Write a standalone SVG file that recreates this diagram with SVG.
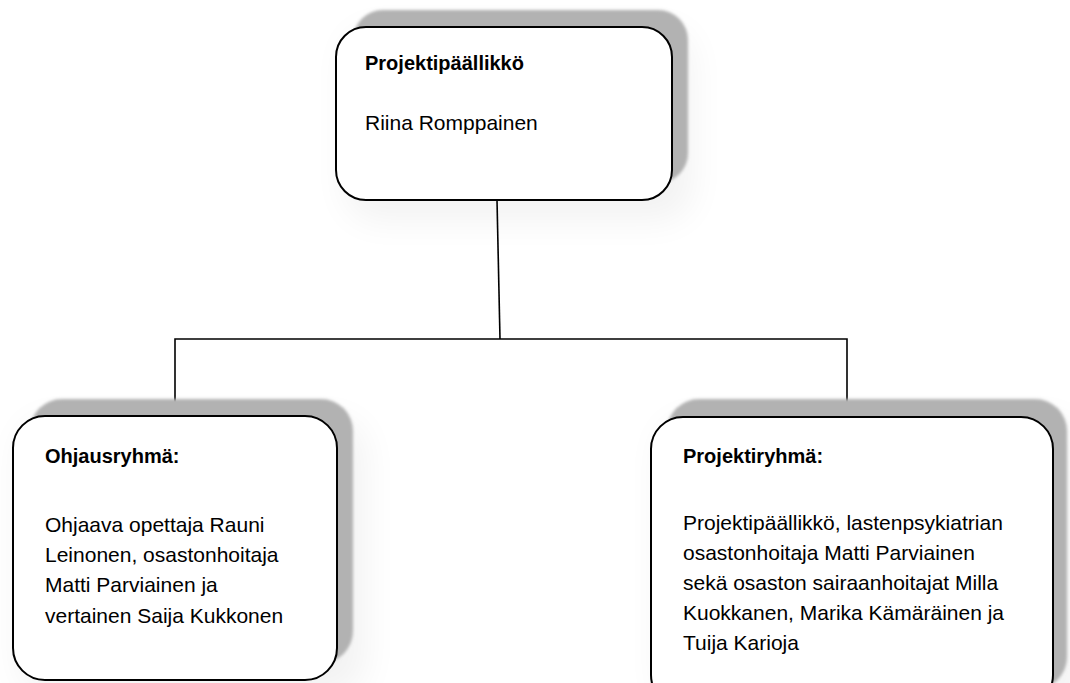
<svg xmlns="http://www.w3.org/2000/svg" width="1070" height="683" viewBox="0 0 1070 683">
  <defs>
    <filter id="soft" x="-20%" y="-20%" width="140%" height="140%">
      <feGaussianBlur stdDeviation="1.5"/>
    </filter>
    <filter id="glow" x="-30%" y="-30%" width="160%" height="160%">
      <feGaussianBlur stdDeviation="18"/>
    </filter>
  </defs>
  <style>
    .box { fill: #ffffff; stroke: #000000; stroke-width: 2; }
    .shadow { fill: #b2b2b2; filter: url(#soft); }
    .glow { fill: #000000; opacity: 0.05; filter: url(#glow); }
    .t { font-family: "Liberation Sans", Arial, sans-serif; font-size: 21px; fill: #000000; }
    .b { font-weight: bold; font-size: 20px; }
    .conn { fill: none; stroke: #000000; stroke-width: 1.6; }
  </style>
  <rect x="0" y="0" width="1070" height="683" fill="#ffffff"/>

  <g id="connectors">
    <path class="conn" d="M497,200 L500,339"/>
    <path class="conn" d="M175,416 L175,339 L847,339 L847,417"/>
  </g>

  <g id="node-projektipaallikko">
    <rect class="glow" x="346" y="30" width="346" height="190" rx="30"/>
    <rect class="shadow" x="353" y="10" width="335" height="173" rx="30"/>
    <rect class="box" x="336" y="27" width="336" height="173" rx="30"/>
    <text class="t b" x="365" y="70">Projektipäällikkö</text>
    <text class="t" x="365" y="130">Riina Romppainen</text>
  </g>

  <g id="node-ohjausryhma">
    <rect class="glow" x="20" y="420" width="345" height="275" rx="32"/>
    <rect class="shadow" x="30" y="399" width="323" height="264" rx="32"/>
    <rect class="box" x="13" y="416" width="324" height="264" rx="32"/>
    <text class="t b" x="45" y="463">Ohjausryhmä:</text>
    <text class="t" x="45" y="532">Ohjaava opettaja Rauni</text>
    <text class="t" x="45" y="562">Leinonen, osastonhoitaja</text>
    <text class="t" x="45" y="592">Matti Parviainen ja</text>
    <text class="t" x="45" y="623">vertainen Saija Kukkonen</text>
  </g>

  <g id="node-projektiryhma">
    <rect class="glow" x="660" y="420" width="420" height="290" rx="32"/>
    <rect class="shadow" x="667" y="399" width="400" height="290" rx="32"/>
    <rect class="box" x="651" y="417" width="402" height="290" rx="32"/>
    <text class="t b" x="683" y="463">Projektiryhmä:</text>
    <text class="t" x="683" y="530">Projektipäällikkö, lastenpsykiatrian</text>
    <text class="t" x="683" y="560">osastonhoitaja Matti Parviainen</text>
    <text class="t" x="683" y="590">sekä osaston sairaanhoitajat Milla</text>
    <text class="t" x="683" y="620">Kuokkanen, Marika Kämäräinen ja</text>
    <text class="t" x="683" y="650">Tuija Karioja</text>
  </g>
</svg>
